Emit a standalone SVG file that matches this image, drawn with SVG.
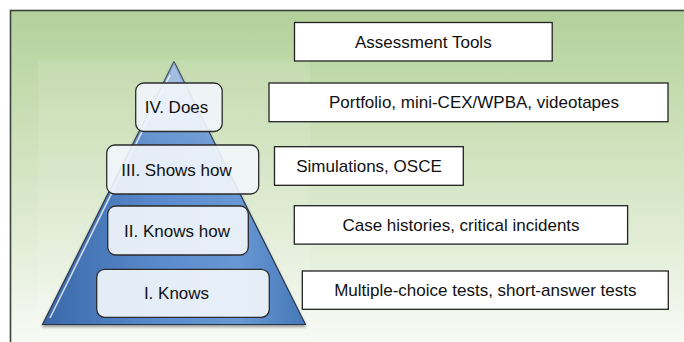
<svg xmlns="http://www.w3.org/2000/svg" width="684" height="342" viewBox="0 0 684 342">
  <defs>
    <linearGradient id="bg" x1="0" y1="0" x2="0" y2="1">
      <stop offset="0" stop-color="#b3d09b"/>
      <stop offset="0.2" stop-color="#c2daab"/>
      <stop offset="0.55" stop-color="#d9e8cb"/>
      <stop offset="1" stop-color="#fbfcf9"/>
    </linearGradient>
    <linearGradient id="pyr" x1="0" y1="0" x2="1" y2="0">
      <stop offset="0" stop-color="#3a68a8"/>
      <stop offset="0.45" stop-color="#5a8bcc"/>
      <stop offset="0.75" stop-color="#6898d4"/>
      <stop offset="1" stop-color="#4677b8"/>
    </linearGradient>
    <linearGradient id="pyrtop" x1="0" y1="0" x2="0" y2="1">
      <stop offset="0" stop-color="#ffffff" stop-opacity="0.35"/>
      <stop offset="0.4" stop-color="#ffffff" stop-opacity="0"/>
    </linearGradient>
    <filter id="sh" x="-10%" y="-10%" width="120%" height="130%">
      <feGaussianBlur in="SourceAlpha" stdDeviation="1.5"/>
      <feOffset dx="0" dy="2" result="b"/>
      <feComponentTransfer><feFuncA type="linear" slope="0.4"/></feComponentTransfer>
      <feMerge><feMergeNode/><feMergeNode in="SourceGraphic"/></feMerge>
    </filter>
    <style>
      .tool { fill: #ffffff; stroke: #222222; stroke-width: 1.3; }
      .lvl { fill: #f1f5fb; fill-opacity: 0.92; stroke: #2b2b2b; stroke-width: 1.3; }
      text { font-family: "Liberation Sans", Arial, sans-serif; font-size: 17px; fill: #111111; text-anchor: middle; }
    </style>
  </defs>

  <!-- background -->
  <rect x="10.5" y="10.5" width="690" height="345" fill="url(#bg)" stroke="#3a443a" stroke-width="1.6"/>
  <rect x="38" y="60" width="272" height="290" fill="#ffffff" fill-opacity="0.1"/>

  <!-- pyramid -->
  <g id="pyramid" filter="url(#sh)">
    <polygon points="174,61.7 305.5,324.5 42.5,324.5" fill="url(#pyr)" stroke="#2a3648" stroke-width="1.2" stroke-linejoin="round"/>
    <polygon points="174,61.7 305.5,324.5 42.5,324.5" fill="url(#pyrtop)"/>
    <line x1="170" y1="75" x2="50" y2="318" stroke="#ffffff" stroke-opacity="0.75" stroke-width="1.6"/>
    <polygon points="174,66 200,118 150,118" fill="#ffffff" fill-opacity="0.18"/>
  </g>

  <!-- level boxes -->
  <g id="level4">
    <rect class="lvl" x="135.7" y="83" width="86.5" height="48.5" rx="8"/>
    <text x="176.5" y="113">IV. Does</text>
  </g>
  <g id="level3">
    <rect class="lvl" x="106.7" y="145" width="152" height="49" rx="8"/>
    <text x="176.5" y="175.5">III. Shows how</text>
  </g>
  <g id="level2">
    <rect class="lvl" x="107.7" y="206" width="140.6" height="49" rx="8"/>
    <text x="177" y="236.5">II. Knows how</text>
  </g>
  <g id="level1">
    <rect class="lvl" x="96.7" y="269.3" width="172.6" height="48" rx="8"/>
    <text x="176.5" y="299">I. Knows</text>
  </g>

  <!-- assessment tool boxes -->
  <g id="header">
    <rect class="tool" x="294.5" y="22.5" width="257.7" height="38.5"/>
    <text x="423.3" y="47.5">Assessment Tools</text>
  </g>
  <g id="tool4">
    <rect class="tool" x="269" y="83" width="399" height="38.7"/>
    <text x="474" y="108.3">Portfolio, mini-CEX/WPBA, videotapes</text>
  </g>
  <g id="tool3">
    <rect class="tool" x="274.5" y="146.7" width="188.8" height="38.6"/>
    <text x="369" y="172">Simulations, OSCE</text>
  </g>
  <g id="tool2">
    <rect class="tool" x="294.3" y="205.7" width="333.3" height="38.4"/>
    <text x="461" y="231">Case histories, critical incidents</text>
  </g>
  <g id="tool1">
    <rect class="tool" x="302.3" y="271" width="366" height="38.3"/>
    <text x="485.3" y="296">Multiple-choice tests, short-answer tests</text>
  </g>
</svg>
